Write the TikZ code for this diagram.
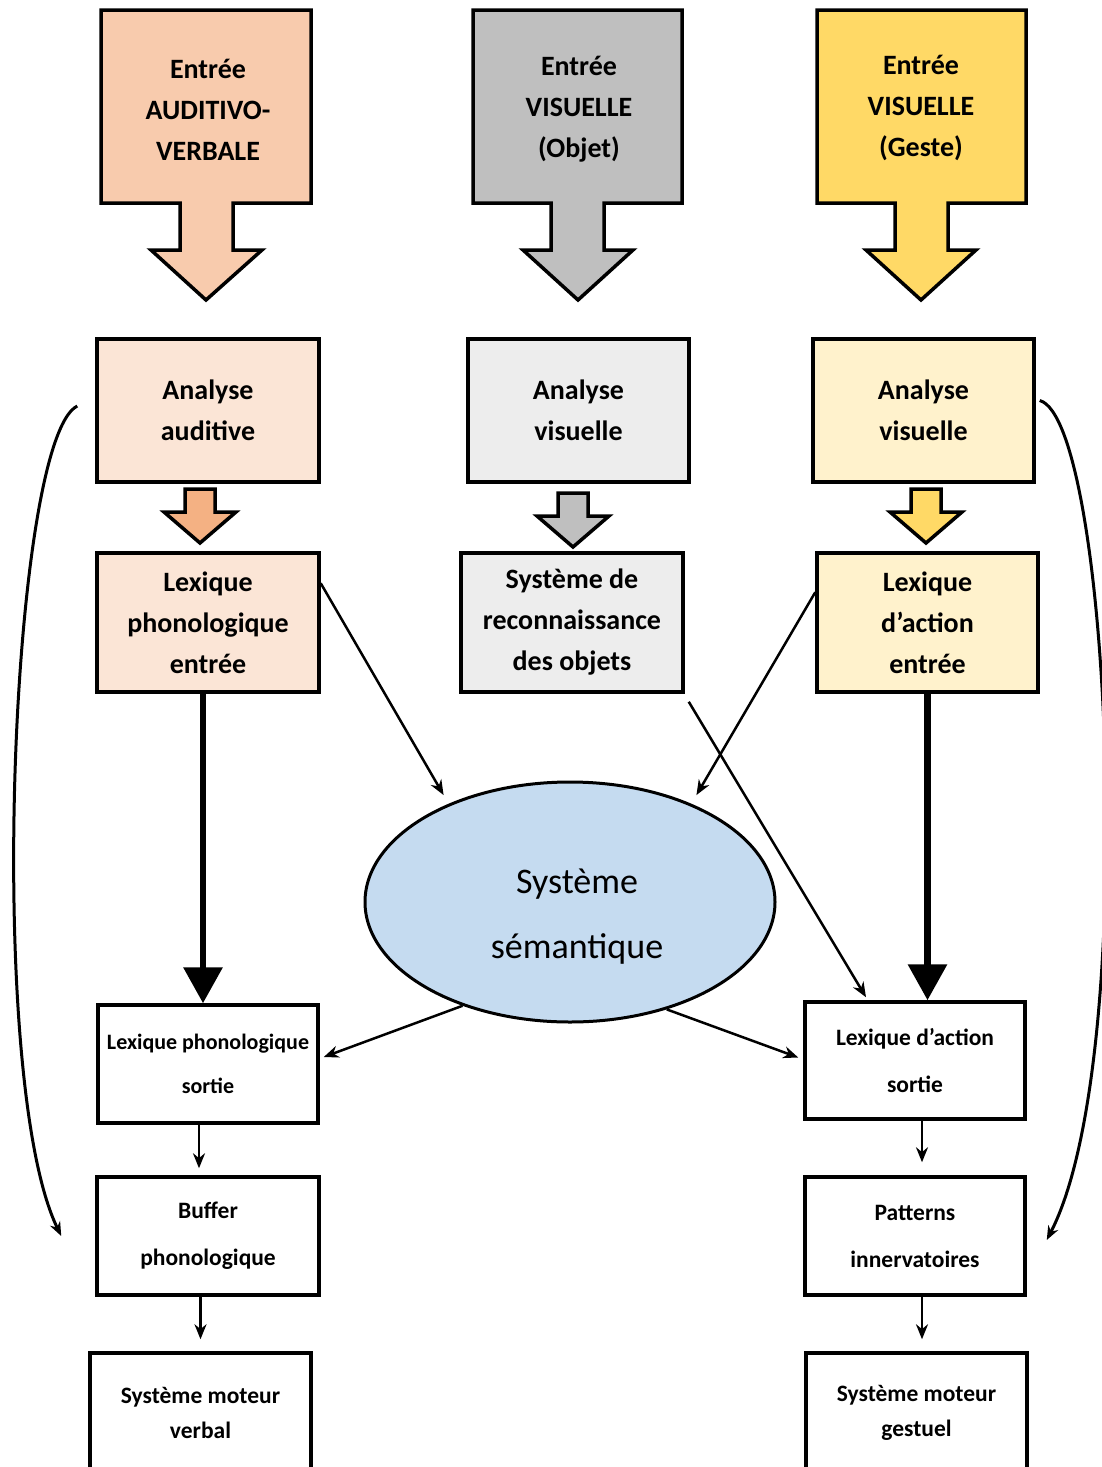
\documentclass[tikz,border=0pt]{standalone}
\usepackage{fontspec}
\setmainfont{Carlito}
\usetikzlibrary{arrows.meta,shapes.geometric}
\definecolor{peachdark}{HTML}{F8CBAD}
\definecolor{peachlight}{HTML}{FBE5D6}
\definecolor{peachmid}{HTML}{F4B183}
\definecolor{greydark}{HTML}{BFBFBF}
\definecolor{greylight}{HTML}{EDEDED}
\definecolor{golddark}{HTML}{FFD966}
\definecolor{goldlight}{HTML}{FFF2CC}
\definecolor{semblue}{HTML}{C5DBF0}
% small block arrow: [style](centre x, top y)(tip y, head base y)
\def\fatdown[#1](#2,#3)(#4,#5){\draw[#1] (#2-15,#3) -- (#2+15,#3) -- (#2+15,#5) -- (#2+36,#5) -- (#2,#4) -- (#2-36,#5) -- (#2-15,#5) -- cycle;}

\begin{document}
\begin{tikzpicture}[x=1pt, y=-1pt,
    box/.style={draw, line width=3.5pt, inner sep=0pt, align=center,
      font=\fontsize{28}{41}\selectfont\bfseries},
    outbox/.style={box, fill=white, font=\fontsize{23.5}{47}\selectfont\bfseries},
    fat/.style={draw, line width=3.5pt, line join=miter},
    thinarrow/.style={line width=2.5pt, -{Stealth[length=15pt,width=12pt]}},
    thickarrow/.style={line width=6.5pt, -{Triangle[length=36pt,width=38pt]}},
    curvearrow/.style={line width=3pt, -{Stealth[length=14pt,width=11pt]}}]
		%%%%% START %%%%%
		\useasboundingbox (0,0) rectangle (1102,1467);
		\clip (0,0) rectangle (1102,1467);
		
		% entry arrows
		\draw[fat, fill=peachdark] (101,10) -- (311,10) -- (311,203) -- (233,203) -- (233,250) -- (262,250) -- (206,300) -- (151,250) -- (180,250) -- (180,203) -- (101,203) -- cycle;
		\draw[fat, fill=greydark] (473,10) -- (682,10) -- (682,203) -- (604,203) -- (604,250) -- (633,250) -- (578,300) -- (523,250) -- (551,250) -- (551,203) -- (473,203) -- cycle;
		\draw[fat, fill=golddark] (817,10) -- (1026,10) -- (1026,203) -- (948,203) -- (948,250) -- (976,250) -- (921,300) -- (866,250) -- (895,250) -- (895,203) -- (817,203) -- cycle;
		\node[box, draw=none] (inA) at (208,110) {Entrée\\AUDITIVO-\\VERBALE};
		\node[box, draw=none] (inB) at (579,109) {Entrée\\VISUELLE\\(Objet)};
		\node[box, draw=none] (inC) at (921,108) {Entrée\\VISUELLE\\(Geste)};
		
		% analysis
		\node[box, fill=peachlight, minimum width=222, minimum height=143] (analA) at (208,410.5) {Analyse\\auditive};
		\node[box, fill=greylight, minimum width=221, minimum height=143] (analB) at (578.5,410.5) {Analyse\\visuelle};
		\node[box, fill=goldlight, minimum width=221, minimum height=143] (analC) at (923.5,410.5) {Analyse\\visuelle};
		
		\fatdown[fat, fill=peachmid](200,489)(543,512)
		\fatdown[fat, fill=greydark](573,493)(547,516)
		\fatdown[fat, fill=golddark](926,489)(543,512)
		
		% input lexicons
		\node[box, fill=peachlight, minimum width=222, minimum height=139] (lexA) at (208,622.5) {Lexique\\phonologique\\entrée};
		\node[box, fill=greylight, minimum width=222, minimum height=139] (sro) at (572,622.5) {Système de\\reconnaissance\\des objets};
		\node[box, fill=goldlight, minimum width=221, minimum height=139] (lexC) at (927.5,622.5) {Lexique\\d’action\\entrée};
		
		% semantic system
		\node[draw, ellipse, line width=3pt, fill=semblue, minimum width=410, minimum height=240, inner sep=0pt] (sem) at (570,902) {};
		\node[align=center, font=\fontsize{36}{65}\selectfont] (semtext) at ([xshift=7pt,yshift=-15pt]sem.center) {Système\\sémantique};
		
		% outputs
		\node[outbox, minimum width=220, minimum height=118, font=\fontsize{22}{44}\selectfont\bfseries] (lpsort) at (208,1064) {Lexique phonologique\\sortie};
		\node[outbox, minimum width=220, minimum height=117] (lasort) at (915,1060.5) {Lexique d’action\\sortie};
		\node[outbox, minimum width=222, minimum height=118] (buffer) at (208,1236) {Buffer\\phonologique};
		\node[outbox, minimum width=220, minimum height=118] (patt) at (915,1236) {Patterns\\innervatoires};
		\node[outbox, minimum width=221, minimum height=120, font=\fontsize{23.5}{35}\selectfont\bfseries] (smv) at (200.5,1413) {Système moteur\\verbal};
		\node[outbox, minimum width=221, minimum height=120, font=\fontsize{23.5}{35}\selectfont\bfseries] (smg) at (916.5,1413) {Système moteur\\gestuel};
		
		% routes
		\draw[thickarrow] ([xshift=-5pt]lexA.south) -- ([xshift=-5pt]lexA.south |- lpsort.north);
		\draw[thickarrow] (lexC.south) -- (lexC.south |- lasort.north);
		\draw[thinarrow, shorten >=10pt] ([yshift=-32pt]lexA.north east) -- (sem.141);
		\draw[thinarrow, shorten >=10pt] ([yshift=-41pt]lexC.north west) -- (sem.39);
		\draw[thinarrow] ([xshift=4pt,yshift=-8pt]sro.south east) -- ([xshift=-49pt,yshift=3pt]lasort.north);
		\draw[thinarrow] (sem.224) -- ([xshift=4pt,yshift=7pt]lpsort.east);
		\draw[thinarrow] (sem.312) -- ([xshift=-5pt,yshift=3pt]lasort.west);
		\draw[thinarrow] ([xshift=-9pt]lpsort.south) -- ([xshift=-9pt,yshift=7pt]buffer.north);
		\draw[thinarrow] (smv.north |- buffer.south) -- ([yshift=12pt]smv.north);
		\draw[thinarrow] ([xshift=7pt]lasort.south) -- ([xshift=7pt,yshift=13pt]patt.north);
		\draw[thinarrow] ([xshift=7pt]patt.south) -- ([xshift=5.5pt,yshift=12pt]smg.north);
		
		% direct routes
		\draw[curvearrow] ([xshift=-18pt,yshift=4.5pt]analA.west) .. controls (10,440) and (-15,1080) .. ([xshift=-34pt]buffer.west);
		\draw[curvearrow] ([xshift=4pt,yshift=10pt]analC.east) .. controls (1110,420) and (1140,1060) .. ([xshift=20pt,yshift=-4pt]patt.east);
		
		%%%%% END %%%%%
\end{tikzpicture}
\end{document}
